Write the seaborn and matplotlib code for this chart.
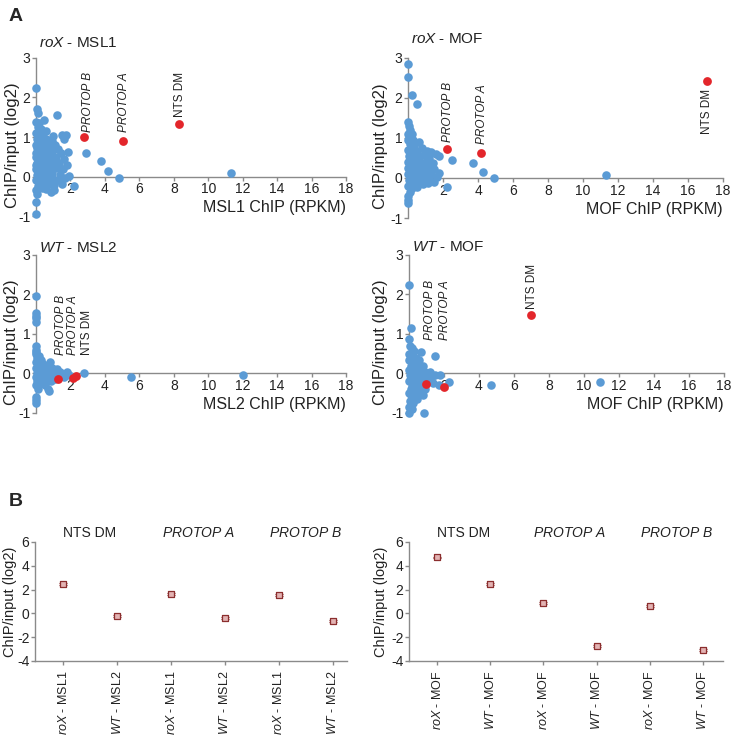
import numpy as np
import pandas as pd
import matplotlib
matplotlib.use("Agg")
import matplotlib.pyplot as plt
import seaborn as sns

sns.set_style("white")
plt.rcParams['font.family'] = ['Liberation Sans', 'DejaVu Sans']
plt.rcParams['mathtext.fontset'] = 'custom'
plt.rcParams['mathtext.rm'] = 'Liberation Sans'
plt.rcParams['mathtext.it'] = 'Liberation Sans:italic'
plt.rcParams['axes.unicode_minus'] = False

BLUE = '#5b9bd5'
RED = '#e3262b'
GREY = '#8a8a8a'
TXT = '#222222'

# ---- panel A data (ChIP RPKM vs ChIP/input log2) ----
# roX - MSL1
rox_msl1_x = [0.00, 0.05, 0.10, 1.20, 0.00, 0.45, 0.20, 0.10, 0.30, 0.00, 0.15, 0.40, 0.60, 0.90, 1.50,
              1.75, 1.60, 0.05, 0.25, 0.50, 0.75, 1.10, 0.00, 0.20, 0.40, 0.65, 0.95, 1.30, 1.85, 1.45,
              0.10, 0.30, 0.55, 0.80, 1.15, 1.60, 0.00, 0.20, 0.45, 0.70, 1.00, 1.35, 1.80, 0.05, 0.25,
              0.50, 0.85, 1.20, 1.55, 0.00, 0.15, 0.40, 0.65, 0.95, 1.40, 1.90, 0.05, 0.30, 0.60, 0.90,
              1.25, 1.70, 0.00, 0.20, 0.45, 0.75, 1.05, 1.50, 0.10, 0.35, 0.60, 0.85, 1.05, 2.20, 0.00,
              0.05, 0.00, 0.00, 0.15, 0.35, 0.55, 0.70, 0.25, 0.12, 0.38, 0.08, 0.28, 0.48, 1.00, 0.60,
              0.18, 0.42, 0.02, 0.22, 0.32, 0.52, 0.12, 0.02, 0.68, 0.88,
              2.90, 3.80, 4.20, 4.80, 11.30]
rox_msl1_y = [2.25, 1.70, 1.62, 1.55, 1.38, 1.42, 1.35, 1.25, 1.20, 1.10, 1.05, 1.00, 0.95, 0.90, 1.05,
              1.05, 0.95, 0.95, 0.90, 0.85, 0.80, 0.80, 0.80, 0.75, 0.70, 0.68, 0.65, 0.70, 0.62, 0.60,
              0.62, 0.58, 0.55, 0.52, 0.50, 0.45, 0.50, 0.45, 0.42, 0.40, 0.38, 0.35, 0.30, 0.35, 0.30,
              0.28, 0.25, 0.22, 0.18, 0.20, 0.15, 0.12, 0.10, 0.08, 0.05, 0.02, 0.05, 0.00, -0.02, -0.05,
              -0.08, -0.05, -0.10, -0.15, -0.18, -0.20, -0.22, -0.18, -0.25, -0.28, -0.32, -0.38, -0.35, -0.25, -0.35,
              -0.45, -0.65, -0.95, 0.55, 0.85, 0.25, 0.62, 1.10, 0.40, 0.50, 0.72, 0.18, 0.65, 1.02, 1.15,
              0.95, 0.60, 0.60, 0.05, 0.40, 0.10, -0.05, 0.30, 0.32, 0.45,
              0.60, 0.40, 0.15, -0.05, 0.10]
rox_msl1_red_x = [2.80, 5.05, 8.30]
rox_msl1_red_y = [1.00, 0.90, 1.33]

# roX - MOF
rox_mof_x = [0.00, 0.00, 0.20, 0.50, 0.00, 0.05, 0.10, 0.00, 0.20, 0.30, 0.00, 0.60, 0.10, 0.35, 0.80,
             1.30, 1.60, 1.75, 1.10, 0.00, 0.20, 0.50, 0.90, 1.20, 0.05, 0.30, 0.60, 1.00, 1.40, 0.00,
             0.20, 0.45, 0.75, 1.10, 1.50, 0.10, 0.30, 0.60, 0.90, 1.30, 1.75, 0.00, 0.20, 0.45, 0.80,
             1.20, 1.65, 0.05, 0.30, 0.55, 0.85, 1.15, 1.50, 0.00, 0.20, 0.50, 0.10, 0.00, 0.00, 0.00,
             0.15, 0.40, 0.70, 0.25, 0.55, 0.35, 0.65, 0.15, 0.95, 1.35, 0.02, 0.12, 0.42, 0.28, 0.08,
             2.20, 2.50, 3.70, 4.30, 4.90, 11.30]
rox_mof_y = [2.85, 2.52, 2.08, 1.85, 1.40, 1.30, 1.20, 1.10, 1.10, 0.95, 0.95, 0.90, 0.85, 0.80, 0.75,
             0.65, 0.60, 0.55, 0.68, 0.70, 0.65, 0.62, 0.58, 0.50, 0.55, 0.50, 0.45, 0.40, 0.38, 0.40,
             0.35, 0.32, 0.30, 0.25, 0.22, 0.25, 0.20, 0.15, 0.12, 0.10, 0.12, 0.10, 0.05, 0.02, 0.00,
             -0.02, 0.02, -0.05, -0.10, -0.12, -0.15, -0.12, -0.10, -0.20, -0.25, -0.22, -0.35, -0.45, -0.55, -0.62,
             0.45, 0.70, 0.55, 0.85, 0.28, 0.05, -0.05, 0.75, 0.20, 0.30, 0.25, 0.60, 0.15, 0.40, 1.00,
             -0.22, 0.45, 0.38, 0.15, 0.00, 0.08]
rox_mof_red_x = [2.25, 4.15, 17.10]
rox_mof_red_y = [0.72, 0.63, 2.42]

# WT - MSL2
wt_msl2_x = [0.00, 0.00, 0.00, 0.00, 0.00, 0.00, 0.00, 0.00, 0.00, 0.05, 0.10, 0.20, 0.00, 0.40, 0.80,
             0.60, 0.15, 0.30, 0.50, 0.90, 1.20, 0.00, 0.10, 0.25, 0.45, 0.70, 1.00, 1.40, 1.80, 0.05,
             0.20, 0.40, 0.65, 0.90, 1.15, 1.60, 1.90, 0.00, 0.15, 0.35, 0.60, 0.85, 1.10, 0.05, 0.25,
             0.50, 0.70, 0.75, 0.00, 0.10, 0.00, 0.00, 0.00, 0.30, 0.55, 0.80, 0.20, 2.80, 5.50, 12.00]
wt_msl2_y = [1.95, 1.52, 1.45, 1.40, 1.30, 0.70, 0.60, 0.55, 0.50, 0.40, 0.35, 0.30, 0.30, 0.25, 0.30,
             0.20, 0.20, 0.15, 0.12, 0.15, 0.12, 0.15, 0.10, 0.05, 0.05, 0.05, 0.05, 0.05, 0.05, 0.00,
             -0.02, -0.03, -0.05, -0.05, -0.02, -0.08, -0.05, -0.08, -0.12, -0.15, -0.12, -0.18, -0.15, -0.20, -0.25,
             -0.28, -0.40, -0.45, -0.30, -0.38, -0.60, -0.68, -0.75, 0.35, -0.05, 0.10, 0.45, 0.02, -0.10, -0.05]
wt_msl2_red_x = [1.25, 2.15, 2.35]
wt_msl2_red_y = [-0.13, -0.12, -0.06]

# WT - MOF
wt_mof_x = [0.00, 0.10, 0.00, 0.05, 0.20, 0.30, 0.70, 1.50, 0.00, 0.15, 0.40, 0.60, 0.00, 0.20, 0.45,
            0.80, 0.10, 0.30, 0.55, 0.90, 1.20, 1.50, 1.80, 0.00, 0.15, 0.35, 0.60, 0.95, 1.25, 0.05,
            0.25, 0.50, 0.75, 1.05, 1.40, 1.70, 0.00, 0.15, 0.40, 0.65, 0.90, 0.10, 0.30, 0.55, 0.80,
            0.00, 0.20, 0.45, 0.05, 0.25, 0.00, 0.15, 0.00, 0.85, 0.10, 0.35, 0.70, 0.40, 0.20, 2.30,
            4.70, 10.90]
wt_mof_y = [2.25, 1.15, 0.88, 0.70, 0.65, 0.58, 0.55, 0.45, 0.50, 0.45, 0.40, 0.35, 0.35, 0.30, 0.25,
            0.20, 0.20, 0.15, 0.10, 0.05, 0.05, -0.05, -0.05, 0.10, 0.05, 0.00, -0.02, -0.08, -0.12, -0.05,
            -0.10, -0.15, -0.18, -0.22, -0.25, -0.30, -0.20, -0.25, -0.30, -0.35, -0.40, -0.40, -0.45, -0.50, -0.55,
            -0.50, -0.60, -0.65, -0.70, -0.75, -0.85, -0.90, -1.00, -1.00, -0.55, -0.20, -0.05, 0.10, -0.35, -0.22,
            -0.30, -0.22]
wt_mof_red_x = [1.00, 2.00, 7.00]
wt_mof_red_y = [-0.27, -0.34, 1.47]

# ---- panel B data ----
b_titles = ['NTS DM', r'$\mathit{PROTOP\ A}$', r'$\mathit{PROTOP\ B}$']
b_left_labels = [r'$\mathit{roX}$ - MSL1', r'$\mathit{WT}$ - MSL2'] * 3
b_left_vals = [2.45, -0.25, 1.60, -0.35, 1.55, -0.65]
b_right_labels = [r'$\mathit{roX}$ - MOF', r'$\mathit{WT}$ - MOF'] * 3
b_right_vals = [4.70, 2.50, 0.90, -2.75, 0.65, -3.10]

fig = plt.figure(figsize=(7.32, 7.35), dpi=100)


def style_a(ax, xlabel, title, title_y, ylab_x):
    ax.set_xlim(0, 18)
    ax.set_ylim(-1, 3)
    for s in ['top', 'right']:
        ax.spines[s].set_visible(False)
    ax.spines['bottom'].set_position(('data', 0))
    for s in ['left', 'bottom']:
        ax.spines[s].set_color(GREY)
        ax.spines[s].set_linewidth(1.0)
    ax.set_xticks([2, 4, 6, 8, 10, 12, 14, 16, 18])
    ax.set_yticks([-1, 0, 1, 2, 3])
    ax.tick_params(axis='both', direction='out', length=3, width=1, color=GREY,
                   labelsize=10, labelcolor=TXT, pad=1, left=True, bottom=True)
    ax.set_xlabel('')
    ax.set_ylabel('ChIP/input (log2)', fontsize=12, color=TXT)
    ax.yaxis.set_label_coords(ylab_x, 0.45)
    ax.text(1.0, 0.055, xlabel, transform=ax.transAxes, ha='right', va='center',
            fontsize=11.5, color=TXT)
    ax.text(0.01, title_y, title, transform=ax.transAxes, ha='left', va='center',
            fontsize=11, color=TXT)
    ax.set_facecolor('none')


def scatter_a(ax, bx, by, rx, ry):
    df = pd.DataFrame({'x': bx, 'y': by})
    sns.scatterplot(data=df, x='x', y='y', ax=ax, color=BLUE, s=38, linewidth=0,
                    clip_on=False, zorder=3)
    dr = pd.DataFrame({'x': rx, 'y': ry})
    sns.scatterplot(data=dr, x='x', y='y', ax=ax, color=RED, s=40, linewidth=0,
                    clip_on=False, zorder=4)


def lab(ax, x, y, s, italic=True):
    ax.text(x, y, s, rotation=90, ha='center', va='bottom', fontsize=8.5, color=TXT,
            style='italic' if italic else 'normal')


ax1 = fig.add_axes([0.0492, 0.7061, 0.4235, 0.2150])
scatter_a(ax1, rox_msl1_x, rox_msl1_y, rox_msl1_red_x, rox_msl1_red_y)
style_a(ax1, 'MSL1 ChIP (RPKM)', r'$\mathit{roX}$ - MSL1', 1.095, -0.052)
lab(ax1, rox_msl1_red_x[0] + 0.2, rox_msl1_red_y[0] + 0.13, 'PROTOP B')
lab(ax1, rox_msl1_red_x[1] + 0.05, rox_msl1_red_y[1] + 0.22, 'PROTOP A')
lab(ax1, rox_msl1_red_x[2] + 0.05, rox_msl1_red_y[2] + 0.18, 'NTS DM', italic=False)

ax2 = fig.add_axes([0.5574, 0.7034, 0.4303, 0.2177])
scatter_a(ax2, rox_mof_x, rox_mof_y, rox_mof_red_x, rox_mof_red_y)
style_a(ax2, 'MOF ChIP (RPKM)', r'$\mathit{roX}$ - MOF', 1.12, -0.063)
lab(ax2, rox_mof_red_x[0] + 0.05, rox_mof_red_y[0] + 0.18, 'PROTOP B')
lab(ax2, rox_mof_red_x[1] + 0.05, rox_mof_red_y[1] + 0.22, 'PROTOP A')
ax2.text(rox_mof_red_x[2], rox_mof_red_y[2] - 0.2, 'NTS DM', rotation=90, ha='center',
         va='top', fontsize=8.5, color=TXT)

ax3 = fig.add_axes([0.0492, 0.4381, 0.4235, 0.2150])
scatter_a(ax3, wt_msl2_x, wt_msl2_y, wt_msl2_red_x, wt_msl2_red_y)
style_a(ax3, 'MSL2 ChIP (RPKM)', r'$\mathit{WT}$ - MSL2', 1.045, -0.055)
lab(ax3, 1.45, 0.47, 'PROTOP B')
lab(ax3, 2.15, 0.47, 'PROTOP A')
lab(ax3, 2.95, 0.47, 'NTS DM', italic=False)

ax4 = fig.add_axes([0.5587, 0.4381, 0.4303, 0.2150])
scatter_a(ax4, wt_mof_x, wt_mof_y, wt_mof_red_x, wt_mof_red_y)
style_a(ax4, 'MOF ChIP (RPKM)', r'$\mathit{WT}$ - MOF', 1.05, -0.068)
lab(ax4, 1.2, 0.85, 'PROTOP B')
lab(ax4, 2.05, 0.85, 'PROTOP A')
lab(ax4, wt_mof_red_x[2] + 0.05, wt_mof_red_y[2] + 0.15, 'NTS DM', italic=False)


def panel_b(ax, labels, vals, xlim, ylab_x):
    pos = np.arange(len(vals))
    df = pd.DataFrame({'pos': pos, 'val': vals})
    ax.errorbar(pos, vals, yerr=0.08, fmt='none', ecolor='#8b2e2e', elinewidth=0.8,
                capsize=3, capthick=0.8, zorder=2)
    sns.scatterplot(data=df, x='pos', y='val', ax=ax, marker='s', s=20,
                    facecolor='#e3b3b3', edgecolor='#8b2e2e', linewidth=0.9, zorder=3)
    ax.set_xlim(*xlim)
    ax.set_ylim(-4, 6)
    ax.set_yticks([-4, -2, 0, 2, 4, 6])
    ax.set_xticks(pos)
    ax.set_xticklabels(labels, rotation=90, color=TXT)
    for s in ['top', 'right']:
        ax.spines[s].set_visible(False)
    for s in ['left', 'bottom']:
        ax.spines[s].set_color(GREY)
        ax.spines[s].set_linewidth(1.0)
    ax.tick_params(axis='both', direction='out', length=3, width=1, color=GREY,
                   labelsize=10, labelcolor=TXT, pad=1, left=True, bottom=True)
    ax.tick_params(axis='x', labelsize=9, pad=4)
    ax.set_xlabel('')
    ax.set_ylabel('ChIP/input (log2)', fontsize=10.5, color=TXT)
    ax.yaxis.set_label_coords(ylab_x, 0.5)
    for i, t in enumerate(b_titles):
        ax.text(2 * i + 0.5, 6.75, t, ha='center', va='center', fontsize=10, color=TXT)
    ax.set_facecolor('none')


ax5 = fig.add_axes([0.0478, 0.1007, 0.4262, 0.1619])
panel_b(ax5, b_left_labels, b_left_vals, (-0.52, 5.26), -0.058)

ax6 = fig.add_axes([0.5587, 0.1007, 0.4290, 0.1619])
panel_b(ax6, b_right_labels, b_right_vals, (-0.53, 5.38), -0.067)

fig.text(0.012, 0.978, 'A', fontsize=14, fontweight='bold', ha='left', va='center')
fig.text(0.012, 0.318, 'B', fontsize=14, fontweight='bold', ha='left', va='center')

fig.savefig('out.png', dpi=100)
